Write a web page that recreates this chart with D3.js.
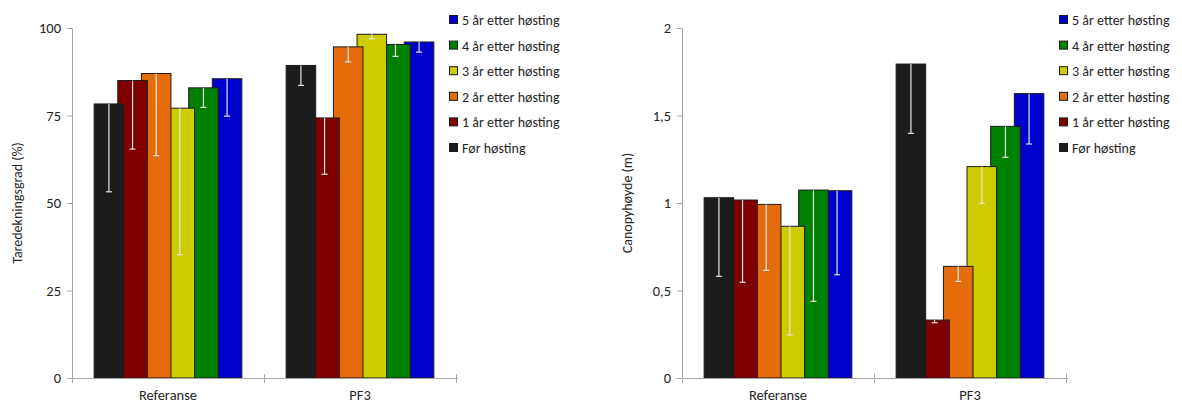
<!DOCTYPE html>
<html lang="no">
<head>
<meta charset="UTF-8" />
<title>Taredekning og canopyhøyde</title>
<style>
  body { margin: 0; background: #fff; }
  svg text { font-family: Carlito, Lato, "Open Sans", sans-serif; fill: #262626; }
</style>
</head>
<body>
<svg width="1182" height="405"></svg>
<script src="https://d3js.org/d3.v7.min.js"></script>
<script>
// categories and series
var categories = ["Referanse", "PF3"];
var seriesNames = ["Før høsting", "1 år etter høsting", "2 år etter høsting",
                   "3 år etter høsting", "4 år etter høsting", "5 år etter høsting"];
var seriesColors = ["#1c1c1c", "#800000", "#e46c0a", "#cccc00", "#008000", "#0000cc"];

// Taredekningsgrad (%) - mean and lower error per series
var coverRef    = [78.3, 85.0, 87.0, 77.1, 82.9, 85.5];
var coverRefErr = [25.1, 19.6, 23.5, 41.9, 5.6, 10.7];
var coverPF3    = [89.3, 74.3, 94.6, 98.2, 95.3, 96.0];
var coverPF3Err = [5.7, 16.1, 4.3, 1.3, 3.4, 2.9];
var coverTicks  = [0, 25, 50, 75, 100];

// Canopyhøyde (m)
var heightRef    = [1.03, 1.017, 0.992, 0.867, 1.074, 1.07];
var heightRefErr = [0.449, 0.47, 0.377, 0.621, 0.636, 0.48];
var heightPF3    = [1.794, 0.331, 0.638, 1.208, 1.438, 1.625];
var heightPF3Err = [0.396, 0.015, 0.086, 0.21, 0.177, 0.288];
var heightTicks  = [0, 0.5, 1, 1.5, 2];

var svg = d3.select("svg");
var comma = function(d) { return String(d).replace(".", ","); };

function drawChart(left, title, titleX, values, errors, ticks, yMax) {
   var x0 = left, x1 = left + 384, top = 28, bottom = 378;

   var x = d3.scaleBand().domain(categories).range([x0, x1]).padding(0);
   var y = d3.scaleLinear().domain([0, yMax]).range([bottom, top]);

   // excel style: gap width 150%, overlap 20%
   var w = x.bandwidth() / (1.5 + 6 - 5 * 0.2);
   var step = w * 0.8;
   var start = w * 1.5 / 2;

   var g = svg.append("g");

   // bars, last series first so the first one ends up on top
   var rows = [];
   seriesNames.forEach(function(s, i) {
      categories.forEach(function(c, j) {
         rows.push({ cat: c, s: i, v: values[j][i], e: errors[j][i] });
      });
   });
   rows.sort(function(a, b) { return b.s - a.s; });

   var bars = g.selectAll(".bar").data(rows).enter().append("g");
   bars.append("rect")
      .attr("x", function(d) { return x(d.cat) + start + d.s * step; })
      .attr("y", function(d) { return y(d.v); })
      .attr("width", w)
      .attr("height", function(d) { return bottom - y(d.v); })
      .attr("fill", function(d) { return seriesColors[d.s]; })
      .attr("stroke", "#1a1a1a")
      .attr("stroke-width", 1);

   // error bars (minus side, white on the bar)
   var cx = function(d) { return x(d.cat) + start + d.s * step + w / 2; };
   bars.append("line")
      .attr("x1", cx).attr("x2", cx)
      .attr("y1", function(d) { return y(d.v); })
      .attr("y2", function(d) { return y(d.v - d.e); })
      .attr("stroke", "#e6e6e6").attr("stroke-width", 1.2);
   bars.append("line")
      .attr("x1", function(d) { return cx(d) - 3; })
      .attr("x2", function(d) { return cx(d) + 3; })
      .attr("y1", function(d) { return y(d.v - d.e); })
      .attr("y2", function(d) { return y(d.v - d.e); })
      .attr("stroke", "#e6e6e6").attr("stroke-width", 1.2);

   // y axis
   var yAxis = g.append("g")
      .attr("transform", "translate(" + x0 + ",0)")
      .call(d3.axisLeft(y).tickValues(ticks).tickSize(5).tickSizeOuter(0).tickPadding(6).tickFormat(comma));
   yAxis.select(".domain").attr("stroke", "#a6a6a6");
   yAxis.selectAll(".tick line").attr("stroke", "#a6a6a6");
   yAxis.selectAll("text").style("font-size", "14.5px").attr("fill", "#262626");

   // x axis
   g.append("line")
      .attr("x1", x0).attr("x2", x1 + 2)
      .attr("y1", bottom + 0.5).attr("y2", bottom + 0.5)
      .attr("stroke", "#a6a6a6");
   g.selectAll(".xtick").data([x0].concat(categories.map(function(c) { return x(c) + x.bandwidth(); })))
      .enter().append("line")
      .attr("x1", function(d) { return d + 0.5; }).attr("x2", function(d) { return d + 0.5; })
      .attr("y1", bottom - 4).attr("y2", bottom + 5)
      .attr("stroke", "#a6a6a6");
   g.selectAll(".xlab").data(categories).enter().append("text")
      .attr("x", function(c) { return x(c) + x.bandwidth() / 2; })
      .attr("y", 400)
      .attr("text-anchor", "middle")
      .style("font-size", "14.5px")
      .text(function(c) { return c; });

   // y title
   g.append("text")
      .attr("transform", "translate(" + titleX + "," + ((top + bottom) / 2) + ") rotate(-90)")
      .attr("text-anchor", "middle")
      .attr("dy", "0.35em")
      .style("font-size", "14px")
      .text(title);

   // legend
   var leg = g.selectAll(".leg").data(seriesNames.slice().reverse()).enter().append("g")
      .attr("transform", function(d, i) { return "translate(" + (x1 - 7) + "," + (20 + i * 25.6) + ")"; });
   leg.append("rect")
      .attr("x", 0.5).attr("y", -4.5).attr("width", 8).attr("height", 8)
      .attr("fill", function(d) { return seriesColors[seriesNames.indexOf(d)]; })
      .attr("stroke", "#1a1a1a");
   leg.append("text")
      .attr("x", 13).attr("dy", "0.35em")
      .style("font-size", "14px")
      .text(function(d) { return d; });
}

drawChart(72, "Taredekningsgrad (%)", 17, [coverRef, coverPF3], [coverRefErr, coverPF3Err], coverTicks, 100);
drawChart(682, "Canopyhøyde (m)", 627, [heightRef, heightPF3], [heightRefErr, heightPF3Err], heightTicks, 2);
</script>
</body>
</html>
